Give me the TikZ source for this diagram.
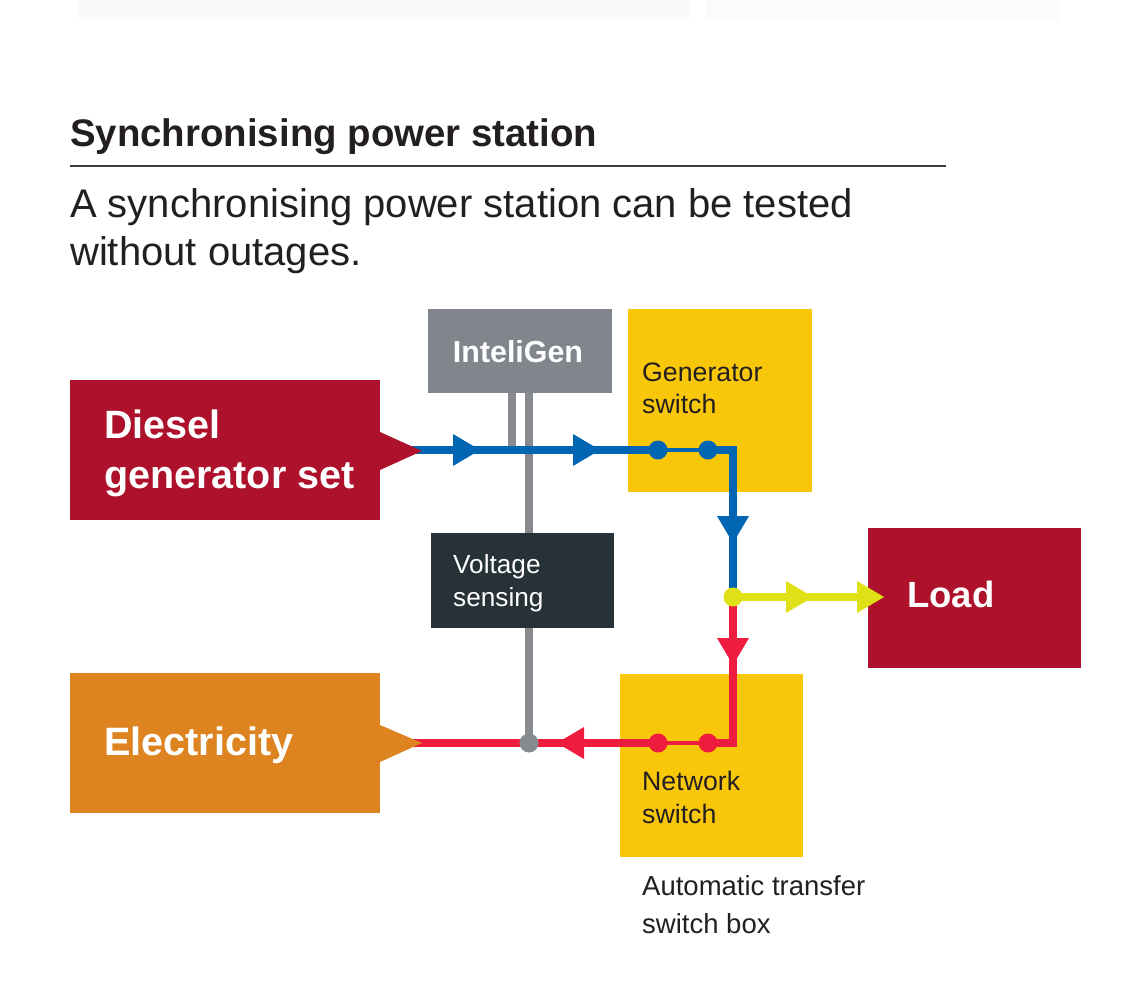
\documentclass[tikz,border=0pt]{standalone}
\usepackage{fontspec}
\setmainfont{Liberation Sans}
\usepackage{tikz}
\usetikzlibrary{arrows.meta}
\definecolor{dieselred}{HTML}{AD112B}
\definecolor{elecorange}{HTML}{DD8420}
\definecolor{switchyellow}{HTML}{F9C70A}
\definecolor{inteligrey}{HTML}{80868B}
\definecolor{sensedark}{HTML}{273238}
\definecolor{wiregrey}{HTML}{878B8F}
\definecolor{flowblue}{HTML}{0066B3}
\definecolor{flowred}{HTML}{EE1C3F}
\definecolor{flowlime}{HTML}{E0E017}
\definecolor{inkblack}{HTML}{231F20}
\definecolor{rulegrey}{HTML}{3A3F44}

\begin{document}
\begin{tikzpicture}[x=1pt, y=-1pt,
		>={Triangle[length=27pt, width=32pt, line width=0pt]},
		box/.style={rectangle, inner sep=0pt, outer sep=0pt, anchor=north west},
		flow/.style={line width=7.5pt},
		thinflow/.style={line width=4.5pt},
		wire/.style={line width=8pt, wiregrey},
		swdot/.style={circle, inner sep=0pt, minimum size=19pt},
		lbl/.style={anchor=base west, align=left, inner sep=0pt}]
			%%Location
			\fill[white] (0,0) rectangle (1131,1003);
			\useasboundingbox (0,0) rectangle (1131,1003);
			\fill[black!2] (78,0) rectangle (690,20);
			\fill[black!1.5] (706,0) rectangle (1060,20);
			%%Heading
			\node[lbl, text=inkblack, font=\fontsize{38.4}{46}\selectfont\bfseries] (title) at (70,147) {Synchronising power station};
			\draw[line width=1.5pt, rulegrey] (70,166) -- (946,166);
			\node[lbl, text=inkblack, font=\fontsize{40}{48}\selectfont] (subtitle) at (70,265) {A synchronising power station can be tested\\without outages.};
			%%Boxes
			\node[box, fill=dieselred, minimum width=310pt, minimum height=140pt] (diesel) at (70,380) {};
			\node[box, fill=elecorange, minimum width=310pt, minimum height=140pt] (electricity) at (70,673) {};
			\node[box, fill=inteligrey, minimum width=184pt, minimum height=84pt] (inteligen) at (428,309) {};
			\node[box, fill=switchyellow, minimum width=184pt, minimum height=183pt] (genswitch) at (628,309) {};
			\node[box, fill=sensedark, minimum width=183pt, minimum height=95pt] (voltage) at (431,533) {};
			\node[box, fill=switchyellow, minimum width=183pt, minimum height=183pt] (netswitch) at (620,674) {};
			\node[box, fill=dieselred, minimum width=213pt, minimum height=140pt] (load) at (868,528) {};
			%%Points
			\coordinate (senseL) at (512,450);
			\coordinate (senseR) at (529,743);
			\coordinate (bluehA) at (480,450);
			\coordinate (bluehB) at (600,450);
			\coordinate (gswA) at (658,450);
			\coordinate (gswB) at (708,450);
			\coordinate (gcorner) at (733,450);
			\coordinate (bluehC) at (733,543);
			\coordinate (junction) at (733,597);
			\coordinate (redhA) at (733,665);
			\coordinate (rcorner) at (733,743);
			\coordinate (nswB) at (708,743);
			\coordinate (nswA) at (658,743);
			\coordinate (redhB) at (557,743);
			\coordinate (limehA) at (813,597);
			\coordinate (limehB) at (884,597);
			\coordinate (limeend) at (870,597);
			%%Sensing wires
			\draw[wire] (senseL |- inteligen.south) -- (senseL);
			\draw[wire] (senseR |- inteligen.south) -- (senseR |- voltage.north);
			\draw[wire] (senseR |- voltage.south) -- (senseR);
			%%Generator side
			\draw[flow, flowblue] (diesel.east) -- (gswA);
			\draw[thinflow, flowblue] (gswA) -- (gswB);
			\draw[flow, flowblue] (gswB) -- (gcorner) -- (junction);
			\draw[flow, flowblue, ->] (diesel.east) -- (bluehA);
			\draw[flow, flowblue, ->] (bluehA) -- (bluehB);
			\draw[flow, flowblue, ->] (gcorner) -- (bluehC);
			%%Network side
			\draw[flow, flowred] (junction) -- (rcorner) -- (nswB);
			\draw[thinflow, flowred] (nswB) -- (nswA);
			\draw[flow, flowred] (nswA) -- (electricity.east);
			\draw[flow, flowred, ->] (junction) -- (redhA);
			\draw[flow, flowred, ->] (nswA) -- (redhB);
			%%Load
			\draw[flow, flowlime] (junction) -- (limeend);
			\draw[flow, flowlime, ->] (junction) -- (limehA);
			\draw[flow, flowlime, ->] (limehA) -- (limehB);
			%%Pointers
			\fill[dieselred] (380,432) -- (422,451) -- (380,470) -- cycle;
			\fill[elecorange] (380,725) -- (422,743) -- (380,762) -- cycle;
			%%Dots
			\node[swdot, fill=flowblue] (gdotA) at (gswA) {};
			\node[swdot, fill=flowblue] (gdotB) at (gswB) {};
			\node[swdot, fill=flowred] (ndotA) at (nswA) {};
			\node[swdot, fill=flowred] (ndotB) at (nswB) {};
			\node[swdot, fill=flowlime] (jdot) at (junction) {};
			\node[swdot, fill=wiregrey] (sensedot) at (senseR) {};
			%%Labels
			\node[lbl, text=white, font=\fontsize{39.5}{50}\selectfont\bfseries] (dieseltext) at (104,488) {Diesel\\generator set};
			\node[lbl, text=white, font=\fontsize{39.6}{48}\selectfont\bfseries] (electext) at (104,755) {Electricity};
			\node[anchor=base, inner sep=0pt, text=white, font=\fontsize{30.4}{36}\selectfont\bfseries] (inteltext) at (518,362) {InteliGen};
			\node[lbl, text=white, font=\fontsize{36.5}{44}\selectfont\bfseries] (loadtext) at (907,607) {Load};
			\node[lbl, text=inkblack, font=\fontsize{26.7}{32}\selectfont] (gentext) at (642,413) {Generator\\switch};
			\node[lbl, text=white, font=\fontsize{26.2}{33}\selectfont] (sensetext) at (453,606) {Voltage\\sensing};
			\node[lbl, text=inkblack, font=\fontsize{26.7}{33}\selectfont] (nettext) at (642,823) {Network\\switch};
			\node[lbl, text=inkblack, font=\fontsize{27.5}{38}\selectfont] (atstext) at (642,933) {Automatic transfer\\switch box};
\end{tikzpicture}
\end{document}
